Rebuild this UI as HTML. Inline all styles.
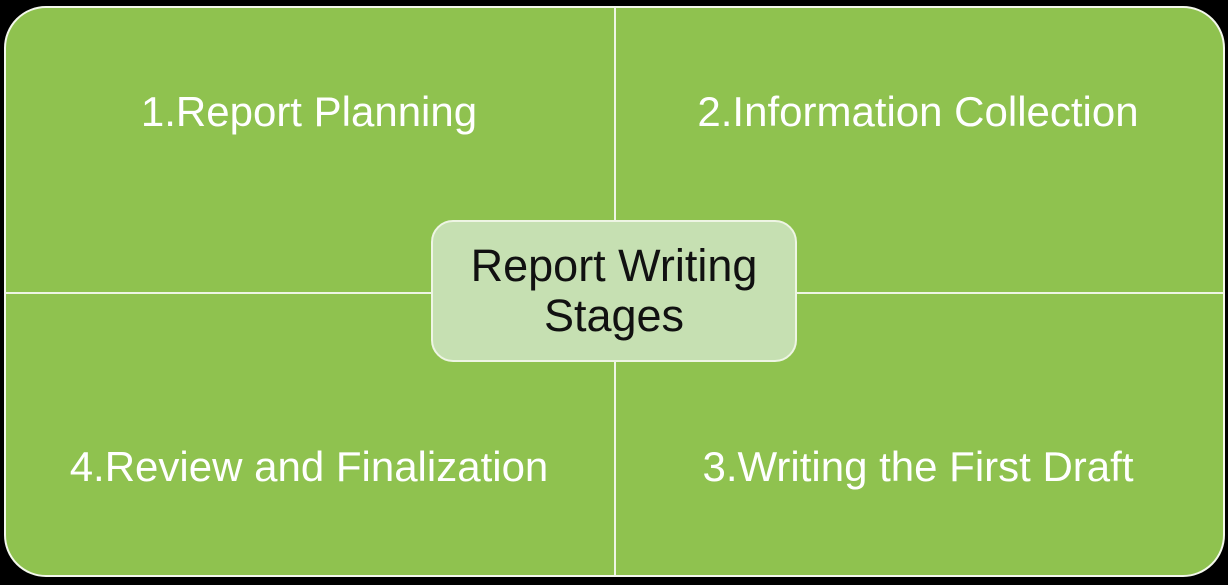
<!DOCTYPE html>
<html><head><style>
html,body{margin:0;padding:0;background:#000;width:1228px;height:585px;overflow:hidden}
.o{position:absolute;left:4px;top:6px;width:1217px;height:567px;background:#8fc24f;border:2px solid #f4f8ec;border-radius:42px;overflow:hidden}
.v{position:absolute;left:608px;top:0;width:2px;height:100%;background:#eef5e4}
.h{position:absolute;top:284px;left:0;width:100%;height:2px;background:#eef5e4}
.t{position:absolute;color:#fff;font:42px "Liberation Sans",sans-serif;white-space:nowrap;transform:translate(-50%,-50%)}
.c{position:absolute;left:431px;top:220px;width:362px;height:138px;background:#c6e0b2;border:2px solid #eef5e4;border-radius:22px;display:flex;align-items:center;justify-content:center;text-align:center;font:45px/50px "Liberation Sans",sans-serif;color:#111}
</style></head><body>
<div class="o"><div class="v"></div><div class="h"></div></div>
<div class="t" style="left:309px;top:112px">1.Report Planning</div>
<div class="t" style="left:918px;top:112px">2.Information Collection</div>
<div class="t" style="left:309px;top:467px">4.Review and Finalization</div>
<div class="t" style="left:918px;top:467px">3.Writing the First Draft</div>
<div class="c">Report Writing<br>Stages</div>
</body></html>
